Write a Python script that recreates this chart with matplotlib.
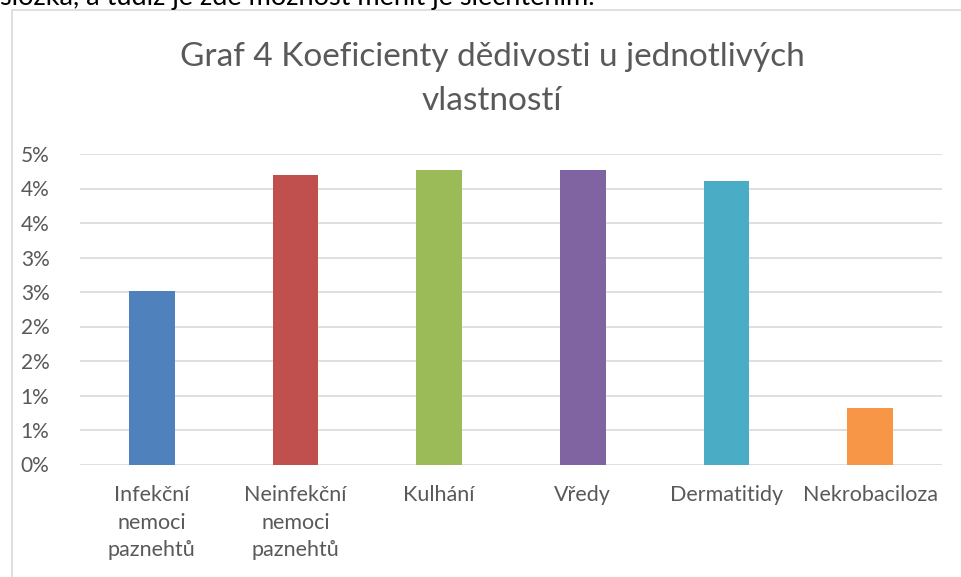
import matplotlib
matplotlib.use("Agg")
import matplotlib.pyplot as plt
from matplotlib.ticker import FuncFormatter
from matplotlib.patches import Rectangle

# data (percent)
categories = ["Infekční\nnemoci\npaznehtů", "Neinfekční\nnemoci\npaznehtů", "Kulhání",
              "Vředy", "Dermatitidy", "Nekrobaciloza"]
values = [2.51, 4.20, 4.27, 4.27, 4.11, 0.82]
colors = ["#4F81BD", "#C0504D", "#9BBB59", "#8064A2", "#4BACC6", "#F79646"]
yticks = [0, 0.5, 1, 1.5, 2, 2.5, 3, 3.5, 4, 4.5]

plt.rcParams['font.family'] = ['Lato', 'DejaVu Sans']
txt = "#595959"

def pct(v, pos):
    # excel style: whole percent, half rounded up
    return "%d%%" % int(v + 0.5)

fig = plt.figure(figsize=(9.61, 5.77), dpi=100)
# chart frame
fig.patches.append(Rectangle((12/961, -0.1), 1.1, (577-10)/577 + 0.1, transform=fig.transFigure,
                             fill=False, edgecolor="#D9D9D9", linewidth=1.2))
# text from the page above, cut off
fig.text(0.0, 1.0 - 5/577, "složka, a tudíž je zde možnost měnit je šlechtěním.", fontsize=19.5,
         color="black", va="baseline", ha="left")

ax = fig.add_axes([80/961, 1 - 464.5/577, 862/961, 310.5/577])
x = range(len(categories))
ax.bar(x, values, width=0.32, color=colors, zorder=3)
ax.set_xlim(-0.5, len(categories) - 0.5)
ax.set_ylim(0, 4.5)
ax.set_yticks(yticks)
ax.yaxis.set_major_formatter(FuncFormatter(pct))
ax.grid(axis="y", color="#D9D9D9", linewidth=1.2, zorder=0)
for s in ax.spines.values():
    s.set_visible(False)
ax.tick_params(axis="both", length=0, labelsize=15, labelcolor=txt)
ax.tick_params(axis="y", pad=22)
ax.set_xticks(list(x))
ax.set_xticklabels(categories, linespacing=1.45, fontsize=15.5)
ax.tick_params(axis="x", pad=15)

fig.text(492/961, 1 - 79/577, "Graf 4 Koeficienty dědivosti u jednotlivých\nvlastností", ha="center",
         va="center", fontsize=24, color=txt, linespacing=1.6)

fig.savefig("out.png", dpi=100)
